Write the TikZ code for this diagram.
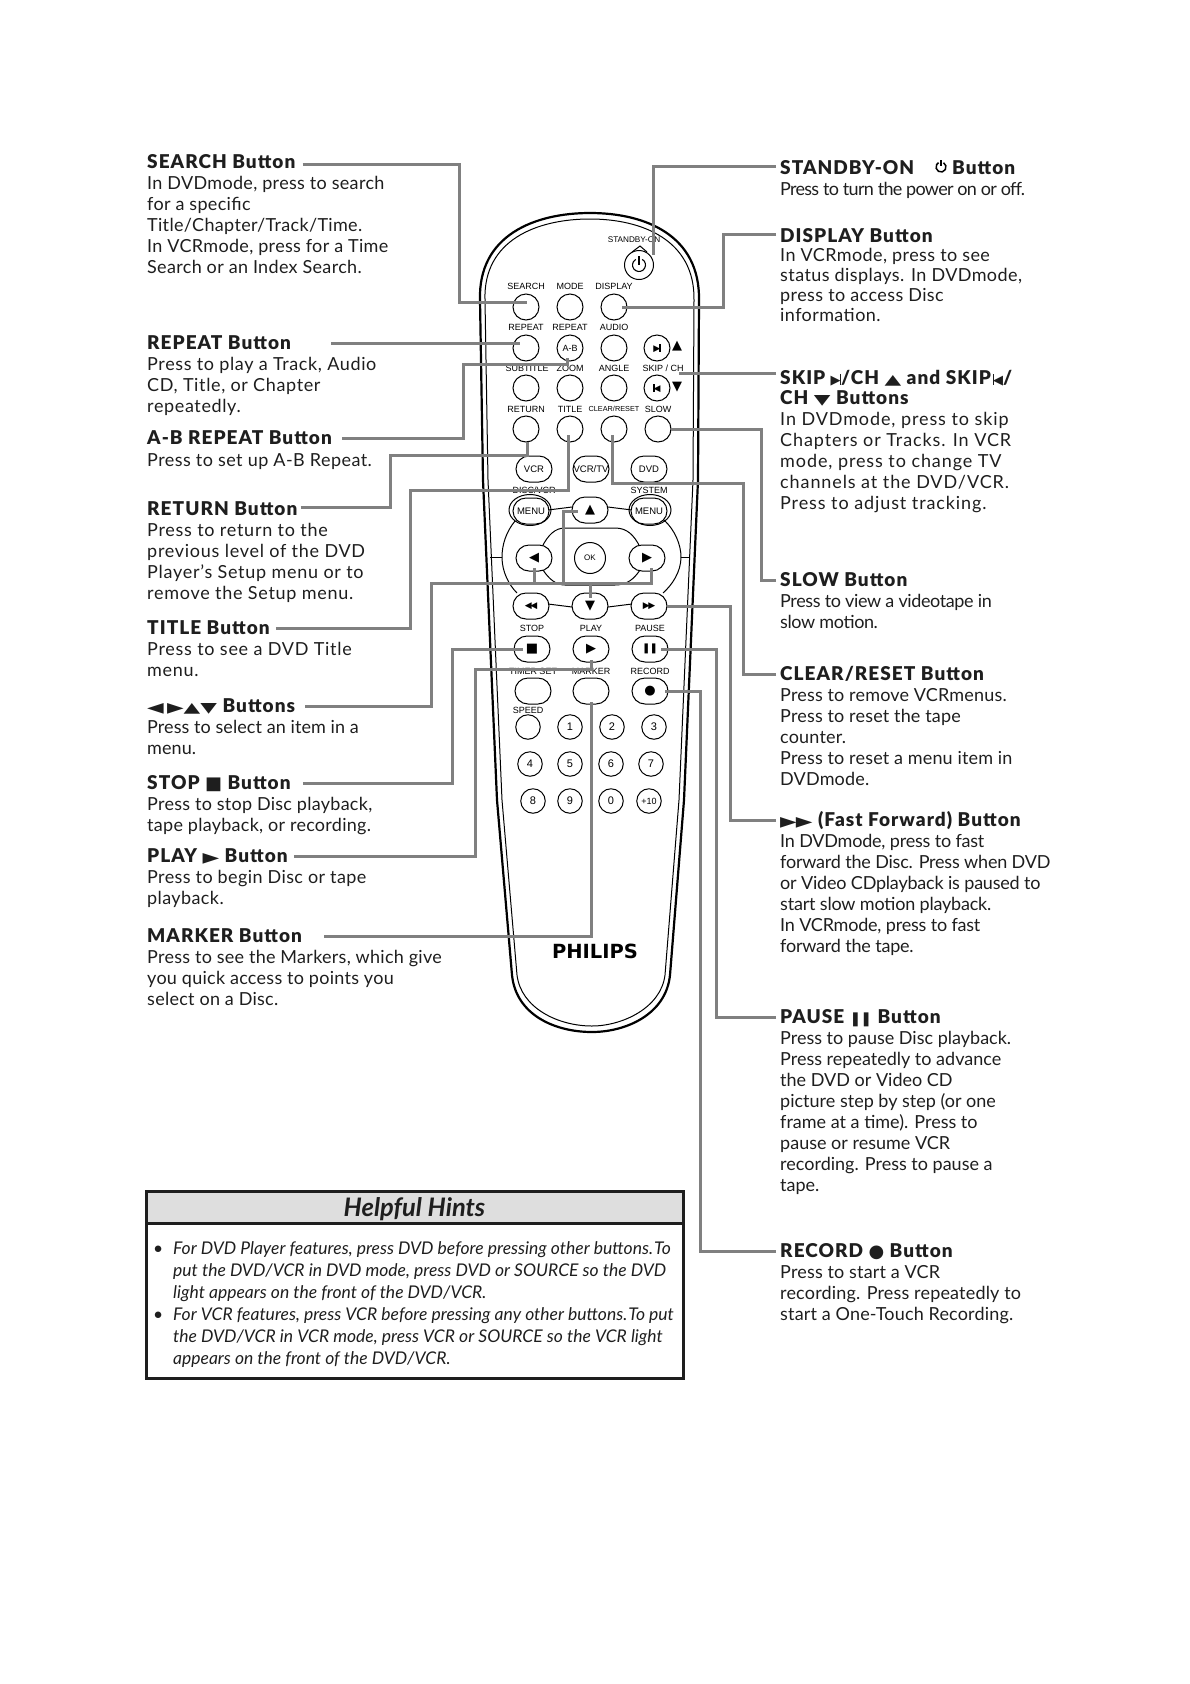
\documentclass[tikz,border=0pt]{standalone}
\usepackage{fontspec}
\usepackage{tikz}
\usetikzlibrary{calc,positioning,shapes.misc,shapes.geometric}
\setmainfont{Lato}
\newfontfamily\symfont{DejaVu Sans}
\newfontfamily\keyfont{Liberation Sans}
\newfontfamily\logofont{DejaVu Sans}
\newfontfamily\ttlfont[LetterSpace=5.5]{Lato Black}
\definecolor{LeaderGray}{RGB}{128,128,128}
\definecolor{HintGray}{RGB}{222,222,222}
\definecolor{InkBlack}{RGB}{30,30,30}
\newcommand{\sym}[1]{{\symfont\fontsize{13}{13}\selectfont #1}}
\newcommand{\wsym}[1]{{\symfont\fontsize{14}{14}\selectfont\scalebox{1.55}[1]{#1}}}
\newcommand{\bsym}[1]{{\symfont\fontsize{18}{18}\selectfont #1}}
\newcommand{\barsym}{\rule[-0.5pt]{1.3pt}{11pt}}
\newcommand{\bodysp}[1]{\fontsize{18}{21}\selectfont\addfontfeature{LetterSpace=#1}}
\begin{document}
\begin{tikzpicture}[x=1pt,y=-1pt,
    ttl/.style={anchor=base west,yshift=-1pt,inner sep=0pt,text height=14pt,text depth=2pt,text=InkBlack,
      font=\ttlfont\fontsize{19}{21}\selectfont},
    bodytxt/.style={anchor=north west,inner sep=0pt,align=left,text=InkBlack,
      font=\bodysp{#1},execute at begin node={\rule{0pt}{14pt}}},
    bodytxt/.default=0,
    leader/.style={draw=LeaderGray,line width=3pt},
    rbtn/.style={circle,draw,line width=1pt,fill=white,minimum size=26pt,inner sep=0pt,
      font=\keyfont\fontsize{9}{9}\selectfont},
    nbtn/.style={rbtn,minimum size=24.5pt,font=\keyfont\fontsize{11}{11}\selectfont},
    obtn/.style={rounded rectangle,draw,line width=1pt,fill=white,minimum width=36pt,minimum height=26pt,
      inner sep=0pt,font=\keyfont\fontsize{9.5}{9.5}\selectfont},
    keylbl/.style={inner sep=0pt,font=\keyfont\fontsize{9}{9}\selectfont}]
  \useasboundingbox (0,0) rectangle (1190,1684);
  % remote body
  \draw[line width=2.2pt] (480,300) .. controls (478,235) and (535,213) .. (590,213)
    .. controls (645,213) and (700,235) .. (699,300)
    -- (698,480) -- (684,800) -- (670,975)
    .. controls (666,1015) and (625,1032) .. (592,1032)
    .. controls (555,1032) and (516,1015) .. (512,975)
    -- (497,800) -- (483,480) -- cycle;
  \draw[line width=1pt] (485,300) .. controls (483,240) and (537,219) .. (590,219)
    .. controls (642,219) and (695,240) .. (694,300)
    -- (693,480) -- (679,800) -- (665,975)
    .. controls (661,1008) and (622,1026) .. (592,1026)
    .. controls (558,1026) and (521,1008) .. (517,975)
    -- (502,800) -- (488,480) -- cycle;
  % cursor ring
  \draw[line width=1pt] (490,557) -- (502,557) (681,557) -- (690,557);
  \draw[line width=1pt] (515,521) .. controls (506,532) and (502,545) .. (502,557)
    .. controls (502,572) and (509,585) .. (517,593);
  \draw[line width=1pt] (664,520) .. controls (675,530) and (681,545) .. (681,557)
    .. controls (681,572) and (672,585) .. (663,593);
  \draw[line width=1pt] (542,547) .. controls (548,535) and (555,528) .. (565,528) -- (615,528)
    .. controls (627,528) and (634,535) .. (640,547);
  \draw[line width=1pt] (543,570) .. controls (549,579) and (556,585) .. (565,585) -- (615,585)
    .. controls (627,585) and (634,579) .. (640,570);
  \draw[line width=1pt] (548,510) -- (572,507) (608,507) -- (632,510)
    (548,604) -- (572,607) (608,607) -- (632,604);
  \draw[line width=1pt] (530,510) ellipse (21 and 15.5);
  \draw[line width=1pt] (650,510) ellipse (21 and 15.5);
  % key labels
  \foreach \nm/\lx/\ly/\txt in {b/526/286/SEARCH,c/570/286/MODE,d/614/286/DISPLAY,
      e/526/327/REPEAT,f/570/327/REPEAT,g/614/327/AUDIO,h/527/368/SUBTITLE,i/570/368/ZOOM,j/614/368/ANGLE,
      k/663/368/{SKIP / CH},m/526/409/RETURN,n/570/409/TITLE,p/658/409/SLOW,
      q/534/490/{DISC/VCR},r/649/490/SYSTEM,s/532/628/STOP,t/591/628/PLAY,u/650/628/PAUSE,
      v/533/671/TIMER SET,w/591/671/MARKER,x/650/671/RECORD,y/528/710/SPEED}
    \node[keylbl] (lbl\nm) at (\lx,\ly) {\txt};
  \node[keylbl,font=\keyfont\fontsize{8.2}{8.2}\selectfont] (lbla) at (634,240) {STANDBY-ON};
  \node[keylbl,font=\keyfont\fontsize{7.3}{7.3}\selectfont] (lblo) at (614,409) {CLEAR/RESET};
  % buttons
  \draw[line width=1pt] (632,252) -- (640,246) -- (647,252);
  \node[rbtn,minimum size=29pt] (bPower) at (639,265) {};
  \draw[line width=1.1pt] ([shift={(-60:6.5)}]bPower.center) arc[start angle=-60,end angle=240,radius=6.5];
  \draw[line width=1.1pt] ($(bPower)+(0,-9)$) -- ($(bPower)+(0,0)$);
  \node[rbtn] (bSearch) at (526,307) {};
  \node[rbtn] (bMode) at (570,307) {};
  \node[rbtn] (bDisplay) at (614,307) {};
  \node[rbtn] (bRepeat) at (526,348) {};
  \node[rbtn] (bAB) at (570,348) {A-B};
  \node[rbtn] (bAudio) at (614,348) {};
  \node[rbtn] (bSkipUp) at (657,348) {\sym{\fontsize{9}{9}\selectfont▶\kern-0.8pt\rule[-0.5pt]{1.2pt}{8pt}}};
  \node[rbtn] (bSub) at (526,388) {};
  \node[rbtn] (bZoom) at (570,388) {};
  \node[rbtn] (bAngle) at (614,388) {};
  \node[rbtn] (bSkipDn) at (657,388) {\sym{\fontsize{9}{9}\selectfont\rule[-0.5pt]{1.2pt}{8pt}\kern-0.8pt◀}};
  \node[rbtn] (bReturn) at (526,429) {};
  \node[rbtn] (bTitle) at (570,429) {};
  \node[rbtn] (bClear) at (614,429) {};
  \node[rbtn] (bSlow) at (658,429) {};
  \node[inner sep=0pt] (mUp) at (677,346) {\sym{▲}};
  \node[inner sep=0pt] (mDn) at (677,387) {\sym{▼}};
  \node[obtn] (bVcr) at (534,469) {VCR};
  \node[obtn] (bVcrTv) at (591,469) {VCR/TV};
  \node[obtn] (bDvd) at (649,469) {DVD};
  \node[obtn] (bDisc) at (531,511) {MENU};
  \node[obtn] (bUp) at (590,510) {\sym{▲}};
  \node[obtn] (bSystem) at (649,511) {MENU};
  \node[obtn] (bLeft) at (534,558) {\sym{◀}};
  \node[rbtn,minimum size=31pt,font=\keyfont\fontsize{8}{8}\selectfont] (bOk) at (590,558) {OK};
  \node[obtn] (bRight) at (647,558) {\sym{▶}};
  \node[obtn] (bRew) at (531,606) {\sym{\fontsize{9}{9}\selectfont◀\kern-1.5pt◀}};
  \node[obtn] (bDown) at (590,606) {\sym{▼}};
  \node[obtn] (bFf) at (649,606) {\sym{\fontsize{9}{9}\selectfont▶\kern-1.5pt▶}};
  \node[obtn] (bStop) at (532,649) {\sym{■}};
  \node[obtn] (bPlay) at (591,649) {\sym{▶}};
  \node[obtn] (bPause) at (650,649) {\sym{\fontsize{10}{10}\selectfont❚\kern-1pt❚}};
  \node[obtn] (bTimer) at (533,691) {};
  \node[obtn] (bMarker) at (591,691) {};
  \node[obtn] (bRecord) at (650,691) {\sym{●}};
  \node[nbtn] (bSpeed) at (528,727) {};
  \foreach \nm/\lx/\ly/\txt in {one/570/727/1,two/612/727/2,three/654/727/3,four/530/764/4,five/570/764/5,
      six/611/764/6,seven/651/764/7,eight/533/801/8,nine/570/801/9,zero/611/801/0}
    \node[nbtn] (b\nm) at (\lx,\ly) {\txt};
  \node[nbtn,font=\keyfont\fontsize{9}{9}\selectfont] (bPlusTen) at (649,801) {+10};
  \node[inner sep=0pt,font=\logofont\fontsize{19.5}{19.5}\selectfont\bfseries] (logo) at (595,951) {PHILIPS};
  % left column
  \node[ttl] (tSearch) at (147,167) {SEARCH Button};
  \node[bodytxt=1.8] (dSearch) at ($(tSearch.base west)+(0,8)$) {In DVDmode, press to search\\for a specific\\Title/Chapter/Track/Time.\\In VCRmode, press for a Time\\Search or an Index Search.};
  \node[ttl] (tRepeat) at (147,348) {REPEAT Button};
  \node[bodytxt=3.5] (dRepeat) at ($(tRepeat.base west)+(0,8)$) {Press to play a Track, Audio\\CD, Title, or Chapter\\repeatedly.};
  \node[ttl] (tAB) at (147,443) {A-B REPEAT Button};
  \node[bodytxt=2.5] (dAB) at ($(tAB.base west)+(0,8)$) {Press to set up A-B Repeat.};
  \node[ttl] (tReturn) at (147,514) {RETURN Button};
  \node[bodytxt=4] (dReturn) at ($(tReturn.base west)+(0,8)$) {Press to return to the\\previous level of the DVD\\Player’s Setup menu or to\\remove the Setup menu.};
  \node[ttl] (tTitle) at (147,633) {TITLE Button};
  \node[bodytxt=4] (dTitle) at ($(tTitle.base west)+(0,8)$) {Press to see a DVD Title\\menu.};
  \node[ttl] (tCursor) at (147,711) {\wsym{◀}\,\wsym{▶}\wsym{▲}\wsym{▼} Buttons};
  \node[bodytxt=0.5] (dCursor) at ($(tCursor.base west)+(0,8)$) {Press to select an item in a\\menu.};
  \node[ttl] (tStop) at (147,788) {STOP \bsym{■} Button};
  \node[bodytxt=1.5] (dStop) at ($(tStop.base west)+(0,8)$) {Press to stop Disc playback,\\tape playback, or recording.};
  \node[ttl] (tPlay) at (147,861) {PLAY \wsym{▶} Button};
  \node[bodytxt=2.2] (dPlay) at ($(tPlay.base west)+(0,8)$) {Press to begin Disc or tape\\playback.};
  \node[ttl] (tMarker) at (147,941) {MARKER Button};
  \node[bodytxt=1.5] (dMarker) at ($(tMarker.base west)+(0,8)$) {Press to see the Markers, which give\\you quick access to points you\\select on a Disc.};
  % right column
  \node[ttl] (tStandby) at (780,173) {STANDBY-ON\hspace{38pt}Button};
  \node[bodytxt=-4] (dStandby) at ($(tStandby.base west)+(0,7)$) {Press to turn the power on or off.};
  \draw[line width=1.5pt] (943.5,162.7) arc[start angle=-60,end angle=240,radius=5];
  \draw[line width=1.5pt] (941,160) -- (941,166);
  \node[ttl] (tDisplay) at (780,241) {DISPLAY Button};
  \node[bodytxt=2.3] (dDisplay) at ($(tDisplay.base west)+(0,6)$) {In VCRmode, press to see\\[-1pt]status displays. In DVDmode,\\[-1pt]press to access Disc\\[-1pt]information.};
  \node[ttl] (tSkip) at (780,383) {SKIP \sym{▶}\kern-1pt\barsym/CH \wsym{▲} and SKIP\kern2pt\barsym\kern-1pt\sym{◀}/};
  \node[ttl] (tSkipb) at (780,403) {CH \wsym{▼} Buttons};
  \node[bodytxt=5] (dSkip) at ($(tSkipb.base west)+(0,8)$) {In DVDmode, press to skip\\Chapters or Tracks. In VCR\\mode, press to change TV\\channels at the DVD/VCR.\\Press to adjust tracking.};
  \node[ttl] (tSlow) at (780,585) {SLOW Button};
  \node[bodytxt=-2.2] (dSlow) at ($(tSlow.base west)+(0,8)$) {Press to view a videotape in\\slow motion.};
  \node[ttl] (tClear) at (780,679) {CLEAR/RESET Button};
  \node[bodytxt=1] (dClear) at ($(tClear.base west)+(0,8)$) {Press to remove VCRmenus.\\Press to reset the tape\\counter.\\Press to reset a menu item in\\DVDmode.};
  \node[ttl] (tFf) at (780,825) {\wsym{▶}\kern-1pt\wsym{▶} (Fast Forward) Button};
  \node[bodytxt=-1.2] (dFf) at ($(tFf.base west)+(0,8)$) {In DVDmode, press to fast\\forward the Disc. Press when DVD\\or Video CDplayback is paused to\\start slow motion playback.\\In VCRmode, press to fast\\forward the tape.};
  \node[ttl] (tPause) at (780,1022) {PAUSE \sym{\fontsize{14}{14}\selectfont❚\kern-1pt❚} Button};
  \node[bodytxt] (dPause) at ($(tPause.base west)+(0,8)$) {Press to pause Disc playback.\\Press repeatedly to advance\\the DVD or Video CD\\picture step by step (or one\\frame at a time). Press to\\pause or resume VCR\\recording. Press to pause a\\tape.};
  \node[ttl] (tRecord) at (780,1256) {RECORD \bsym{●} Button};
  \node[bodytxt=1] (dRecord) at ($(tRecord.base west)+(0,8)$) {Press to start a VCR\\recording. Press repeatedly to\\start a One-Touch Recording.};
  % leaders
  \draw[leader] ($(tSearch.east)+(7,2)$) -| (459,302) -- ($(bSearch)+(1,-5)$);
  \draw[leader] ($(bRepeat.center -| tRepeat.east)+(40,-5)$) -- ($(bRepeat)+(-6,-5)$);
  \draw[leader] ($(tAB.east)+(10,0)$) -| (463,364) -| ($(bAB)+(-3,10)$);
  \draw[leader] ($(tReturn.east)+(3,-2)$) -| (390,455) -| ($(bReturn)+(1,13)$);
  \draw[leader] ($(tTitle.east)+(6,0)$) -| (410,490) -| ($(bTitle)+(-2,6)$);
  \draw[leader] ($(tCursor.east)+(10,0)$) -| (431,583) -| ($(bRight)+(4,10)$);
  \draw[leader] (534,583) -- ($(bLeft)+(0,10)$);
  \draw[leader] (563,583) |- ($(bUp)+(-12,1)$);
  \draw[leader] (590,583) -- ($(bDown)+(0,-8)$);
  \draw[leader] ($(tStop.east)+(12,0)$) -| (452,649) -- ($(bStop)+(-9,0)$);
  \draw[leader] ($(tPlay.east)+(6,0)$) -| (475,669) -| ($(bPlay)+(0,11)$);
  \draw[leader] ($(tMarker.east)+(22,0)$) -| ($(bMarker)+(0,11)$);
  \draw[leader] ($(tStandby.west)+(-4,-2)$) -| ($(bPower)+(14,-10)$);
  \draw[leader] ($(tDisplay.west)+(-4,-2)$) -| (723,307) -- ($(bDisplay)+(8,0)$);
  \draw[leader] ($(tSkip.west)+(-4,-5)$) -- (679,373);
  \draw[leader] ($(tSlow.west)+(-4,0)$) -| (761,429) -- ($(bSlow)+(13,0)$);
  \draw[leader] ($(tClear.west)+(-4,0)$) -| (743,483) -| ($(bClear)+(-2,6)$);
  \draw[leader] ($(tFf.west)+(-4,0)$) -| (730,606) -- ($(bFf)+(18,0)$);
  \draw[leader] ($(tPause.west)+(-4,0)$) -| (716,649) -- ($(bPause)+(11,0)$);
  \draw[leader] ($(tRecord.west)+(-4,0)$) -| (700,691) -- ($(bRecord)+(15,0)$);
  % hints box
  \node[draw=InkBlack,line width=3pt,fill=HintGray,minimum width=537pt,minimum height=32pt,inner sep=0pt,outer sep=0pt]
    (hintHead) at (414.5,1207) {};
  \node[inner sep=0pt,text=InkBlack,font=\fontsize{25.5}{25.5}\selectfont\bfseries\itshape] (hintTitle) at (414.5,1209.5) {Helpful Hints};
  \node[draw=InkBlack,line width=3pt,minimum width=537pt,minimum height=155pt,inner sep=0pt,outer sep=0pt,anchor=north]
    (hintBox) at (hintHead.south) {};
  \node[anchor=north west,inner sep=0pt,align=left,text=InkBlack,font=\fontsize{17.5}{22.1}\selectfont\itshape,
    execute at begin node={\rule{0pt}{14pt}}] (hintText) at (153,1241)
    {\makebox[20pt][l]{•}For DVD Player features, press DVD before pressing other buttons.\hspace{1pt}To\\
     \hspace*{20pt}put the DVD/VCR in DVD mode, press DVD or SOURCE so the DVD\\
     \hspace*{20pt}light appears on the front of the DVD/VCR.\\
     \makebox[20pt][l]{•}For VCR features, press VCR before pressing any other buttons.\hspace{1pt}To put\\
     \hspace*{20pt}the DVD/VCR in VCR mode, press VCR or SOURCE so the VCR light\\
     \hspace*{20pt}appears on the front of the DVD/VCR.};
\end{tikzpicture}
\end{document}
